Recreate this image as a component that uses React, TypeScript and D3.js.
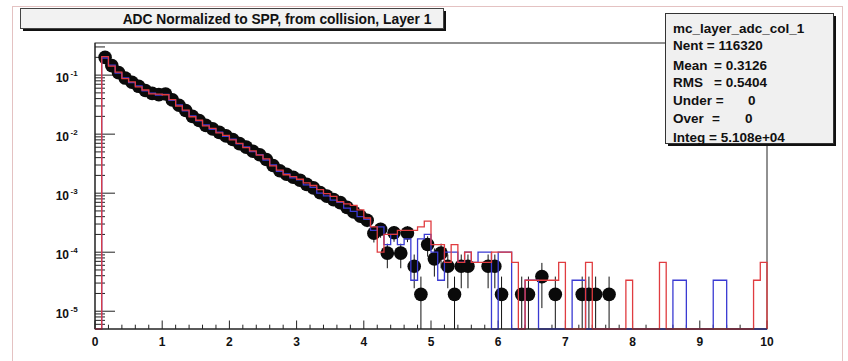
import React from 'react';
import * as d3 from 'd3';

// ---- data (100 bins of width 0.1 from 0 to 10) ----
const binEdges0 = 0;
const binWidth = 0.1;

const dataValues = [
  0, 0.200, 0.145, 0.110, 0.0891, 0.0759, 0.0646, 0.0550, 0.0490, 0.0468,
  0.0479, 0.0380, 0.0309, 0.0251, 0.0200, 0.0170, 0.0141, 0.0123, 0.0107, 0.00933,
  0.00813, 0.00692, 0.00603, 0.00513, 0.00447, 0.00372, 0.00295, 0.00240, 0.00209, 0.00186,
  0.00166, 0.00141, 0.00123, 0.00102, 0.000891, 0.000776, 0.000692, 0.000575, 0.000479, 0.000407,
  0.000347, 0.000209, 0.000245, 0.0000965, 0.000214, 0.0000965, 0.000212, 0.0000579, 0.0000193, 0.000135,
  0.0000772, 0.0000965, 0.0000579, 0.0000193, 0.0000579, 0.0000579, 0, 0, 0.0000579, 0.0000579,
  0.0000193, 0, 0, 0.0000193, 0.0000193, 0, 0.0000386, 0, 0.0000193, 0,
  0, 0, 0.0000193, 0.0000193, 0.0000193, 0, 0.0000193, 0, 0, 0,
  0, 0, 0, 0, 0, 0, 0, 0, 0, 0,
  0, 0, 0, 0, 0, 0, 0, 0, 0, 0,
];

const dataErrors = [
  0, 0.00196, 0.00167, 0.00146, 0.00131, 0.00121, 0.00112, 0.00103, 0.00097, 0.00095,
  0.00096, 0.00086, 0.00077, 0.00070, 0.00062, 0.00057, 0.00052, 0.00049, 0.00045, 0.00042,
  0.00040, 0.00037, 0.00034, 0.00031, 0.00029, 0.00027, 0.00024, 0.00022, 0.00020, 0.00019,
  0.000179, 0.000165, 0.000154, 0.000140, 0.000131, 0.000122, 0.000116, 0.000105, 0.000096, 0.000089,
  0.000082, 0.000063, 0.000069, 0.000043, 0.000064, 0.000043, 0.000064, 0.0000334, 0.0000193, 0.000051,
  0.0000386, 0.000043, 0.0000334, 0.0000193, 0.0000334, 0.0000334, 0, 0, 0.0000334, 0.0000334,
  0.0000193, 0, 0, 0.0000193, 0.0000193, 0, 0.0000273, 0, 0.0000193, 0,
  0, 0, 0.0000193, 0.0000193, 0.0000193, 0, 0.0000193, 0, 0, 0,
  0, 0, 0, 0, 0, 0, 0, 0, 0, 0,
  0, 0, 0, 0, 0, 0, 0, 0, 0, 0,
];

const blueValues = [
  0, 0.195, 0.148, 0.108, 0.0900, 0.0745, 0.0655, 0.0540, 0.0495, 0.0460,
  0.0470, 0.0375, 0.0312, 0.0248, 0.0203, 0.0168, 0.0143, 0.0121, 0.0108, 0.00920,
  0.00820, 0.00685, 0.00610, 0.00505, 0.00450, 0.00365, 0.00300, 0.00235, 0.00212, 0.00182,
  0.00168, 0.00138, 0.00125, 0.00100, 0.000900, 0.000760, 0.000700, 0.000560, 0.000490, 0.000400,
  0.000360, 0.000234, 0.000268, 0.000134, 0.000201, 0.000134, 0.000168, 0.0000335, 0.000168, 0.000201,
  0.000100, 0.0000335, 0.000100, 0.000100, 0.000067, 0.000100, 0.000067, 0.000100, 0.000100, 0,
  0.000100, 0.000100, 0, 0, 0.0000335, 0.0000335, 0, 0, 0, 0,
  0, 0.0000335, 0.0000335, 0, 0, 0, 0, 0, 0, 0,
  0, 0, 0, 0, 0, 0, 0.0000335, 0.0000335, 0, 0,
  0, 0, 0.0000335, 0.0000335, 0, 0, 0, 0, 0, 0,
];

const redValues = [
  0, 0.205, 0.142, 0.112, 0.0870, 0.0770, 0.0630, 0.0560, 0.0480, 0.0475,
  0.0465, 0.0385, 0.0300, 0.0255, 0.0197, 0.0172, 0.0138, 0.0125, 0.0105, 0.00950,
  0.00800, 0.00700, 0.00590, 0.00520, 0.00440, 0.00380, 0.00290, 0.00245, 0.00205, 0.00190,
  0.00172, 0.00150, 0.00135, 0.00115, 0.000980, 0.000880, 0.000720, 0.000660, 0.000620, 0.000520,
  0.000380, 0.000268, 0.000100, 0.000201, 0.000201, 0.000234, 0.000234, 0.000234, 0.000268, 0.000335,
  0.000134, 0.000134, 0.000067, 0.000134, 0.000067, 0.000100, 0.000067, 0.000067, 0.000067, 0.000100,
  0.000100, 0.000100, 0.000067, 0, 0.0000335, 0.0000335, 0.0000335, 0.0000335, 0.0000335, 0.000067,
  0, 0, 0, 0.000067, 0, 0, 0, 0, 0, 0.0000335,
  0, 0, 0, 0, 0.000067, 0, 0, 0, 0, 0,
  0, 0, 0, 0, 0, 0, 0, 0, 0.0000335, 0.000067,
];

const xTickValues = [0, 1, 2, 3, 4, 5, 6, 7, 8, 9, 10];
const yDecadeExponents = [-5, -4, -3, -2, -1];

const titleText = 'ADC Normalized to SPP, from collision, Layer 1';
const statsName = 'mc_layer_adc_col_1';
const statsNent = 'Nent = 116320';
const statsMean = '0.3126';
const statsRms = '0.5404';
const statsUnder = '0';
const statsOver = '0';
const statsInteg = 'Integ = 5.108e+04';

const FONT = '"Liberation Sans", Arial, Helvetica, sans-serif';

export default function App() {
  const left = 95, right = 767, top = 43, bottom = 329;
  const x = d3.scaleLinear().domain([0, 10]).range([left, right]);
  const y = d3.scaleLog().domain([5e-6, 0.35]).range([bottom, top]);
  const yOf = (v: number) => (v > 0 ? Math.max(top, Math.min(bottom, y(v))) : bottom);

  const histPath = (vals: number[]) => {
    const pts: [number, number][] = [[x(binEdges0), bottom]];
    vals.forEach((v, i) => pts.push([x(binEdges0 + i * binWidth), yOf(v)]));
    pts.push([x(binEdges0 + vals.length * binWidth), yOf(vals[vals.length - 1])]);
    pts.push([x(binEdges0 + vals.length * binWidth), bottom]);
    return d3.line().curve(d3.curveStepAfter)(pts) || '';
  };

  const centers = dataValues.map((_, i) => binEdges0 + (i + 0.5) * binWidth);

  const yMinor: number[] = [];
  for (let e = -6; e <= -1; e++) {
    for (let k = 2; k <= 9; k++) {
      const v = k * Math.pow(10, e);
      if (v >= 5e-6 && v <= 0.35) yMinor.push(v);
    }
  }
  const xMinor = d3.range(0, 10.0001, 0.2);

  return (
    <svg
      width={848}
      height={361}
      style={{ position: 'absolute', left: 0, top: 0, display: 'block', background: '#fff' }}
      fontFamily={FONT}
    >
      <rect x={0} y={0} width={848} height={361} fill="#fff" />
      <rect x={12.5} y={6.5} width={830} height={400} fill="none" stroke="#e4c2c2" strokeWidth={1} />

      <rect x={left} y={top} width={right - left} height={bottom - top} fill="#fff" stroke="#222" strokeWidth={1} />

      {yDecadeExponents.map((e) => (
        <line key={'ym' + e} x1={left} x2={left + 20} y1={y(Math.pow(10, e))} y2={y(Math.pow(10, e))} stroke="#222" />
      ))}
      {yMinor.map((v, i) => (
        <line key={'yn' + i} x1={left} x2={left + 10} y1={y(v)} y2={y(v)} stroke="#222" />
      ))}
      {xMinor.map((v, i) => {
        const major = Math.abs(v - Math.round(v)) < 1e-6;
        return (
          <line key={'xt' + i} x1={x(v)} x2={x(v)} y1={bottom} y2={bottom - (major ? 8.5 : 4.3)} stroke="#222" />
        );
      })}

      {dataValues.map((v, i) =>
        v > 0 ? (
          <line
            key={'e' + i}
            x1={x(centers[i])}
            x2={x(centers[i])}
            y1={yOf(v + dataErrors[i])}
            y2={v - dataErrors[i] > 0 ? yOf(v - dataErrors[i]) : bottom}
            stroke="#111"
            strokeWidth={1}
          />
        ) : null
      )}
      {dataValues.map((v, i) =>
        v > 0 ? <circle key={'m' + i} cx={x(centers[i])} cy={yOf(v)} r={6.8} fill="#0a0a0a" /> : null
      )}

      <path d={histPath(blueValues)} fill="none" stroke="#3a3ad2" strokeWidth={1.3} />
      <path d={histPath(redValues)} fill="none" stroke="#e03c40" strokeWidth={1.3} />

      <line x1={left} x2={right} y1={bottom} y2={bottom} stroke="#222" />
      <line x1={left} x2={left} y1={top} y2={bottom} stroke="#222" />

      {yDecadeExponents.map((e) => {
        const yy = y(Math.pow(10, e));
        return (
          <g key={'yl' + e} fill="#111" fontWeight="bold">
            <text x={69} y={yy + 6.5} fontSize={12} textAnchor="end">10</text>
            <text x={70.5} y={yy + 0.5} fontSize={8}>{String(e)}</text>
          </g>
        );
      })}
      {xTickValues.map((v) => (
        <text key={'xl' + v} x={x(v)} y={346} fontSize={12} fontWeight="bold" textAnchor="middle" fill="#111">
          {String(v)}
        </text>
      ))}

      <rect x={23} y={11} width={423} height={20} fill="#111" />
      <rect x={20.5} y={8.5} width={423} height={20} fill="#f2f2f2" stroke="#444" strokeWidth={1} />
      <text x={277} y={23.5} fontSize={13.8} fontWeight="bold" textAnchor="middle" fill="#111">
        {titleText}
      </text>

      <rect x={668} y={16} width={168} height={130} fill="#111" />
      <rect x={665.5} y={13.5} width={168} height={130} fill="#f0f0f0" stroke="#333" strokeWidth={1} />
      <g fontSize={13.5} fontWeight="bold" fill="#111">
        <text x={673} y={33}>{statsName}</text>
        <text x={673} y={50}>{statsNent}</text>
        <text x={673} y={70}>Mean</text>
        <text x={714} y={70}>{'= ' + statsMean}</text>
        <text x={673} y={87}>RMS</text>
        <text x={714} y={87}>{'= ' + statsRms}</text>
        <text x={673} y={105}>Under =</text>
        <text x={748} y={105}>{statsUnder}</text>
        <text x={673} y={123}>Over</text>
        <text x={712} y={123}>=</text>
        <text x={745} y={123}>{statsOver}</text>
        <text x={673} y={142}>{statsInteg}</text>
      </g>
    </svg>
  );
}
